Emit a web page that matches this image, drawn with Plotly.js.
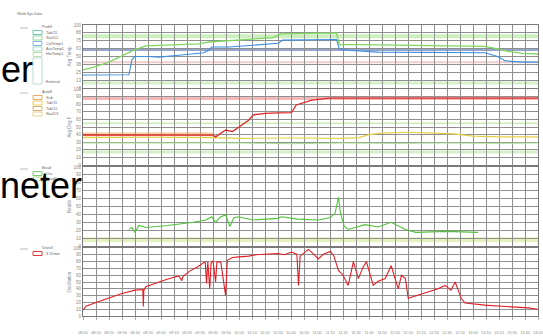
<!DOCTYPE html>
<html><head><meta charset="utf-8">
<script src="https://cdn.plot.ly/plotly-3.0.1.min.js"></script>
<style>html,body{margin:0;padding:0;background:#fff}#c{width:543px;height:336px}</style>
</head><body><div id="c"></div>
<script>
// ---------- DATA ----------
const timeLabels = ["08:00","08:10","08:20","08:30","08:40","08:50","09:00","09:10","09:20","09:30","09:40","09:50",
  "10:00","10:10","10:20","10:30","10:40","10:50","11:00","11:10","11:20","11:30","11:40","11:50",
  "12:00","12:10","12:20","12:30","12:40","12:50","13:00","13:10","13:20","13:30","13:40","13:50"];

// Panel 1 (temperatures)
const p1GreenX = [0,0.84,2.0,3.15,3.91,4.83,5.83,7.37,8.9,9.67,11.2,12.74,14.66,15.2,16.58,18.1,19.5,19.72,21.2,24.25,27.3,30.4,30.9,31.9,32.7,33.8,35];
const p1GreenY = [28.6,33,41,52,60,67,68,69,70,73,75,77,80,86,87,87,87,69,69,68,68,67,66,62,58,55,54];
const p1BlueX = [0,1.23,2.76,3.53,3.76,3.99,5.07,5.83,7.37,9.29,9.67,9.9,11.2,11.97,13.5,15.04,15.35,16.58,18.1,19.5,19.72,20.4,22.7,25.8,28.6,30.4,30.9,31.9,32.5,33.8,35];
const p1BlueY = [20.6,21,21,21,45,50,50,49,52,56,60,65,65,66,68,71,76,76,77,77,62,60,57,57,57,57,56,50,43,41,41];
const p1Thresholds = [60.3, 82, 41, 8];

// Panel 2
const p2RedX = [0,2,4,6,8,10,10.2,10.97,11.5,11.97,12.74,13.1,14.04,15,16.04,16.4,17.1,17.6,18.9,21,24,27,30,33,35];
const p2RedY = [39.5,39.5,39.8,39.5,39.5,39.3,37,46,44,50,59,66,68,68.5,69,79,83,85.5,88,88,88.5,88,88.3,88,88];
const p2OrangeX = [0,3,6,9,10.05];
const p2OrangeY = [40,40.5,40,40.3,40];
const p2YellowX = [0,5,10,12,16,20,21.2,22,23,25,27,28.5,30,32,35];
const p2YellowY = [36,36.5,36,35,35.5,35,36,40,42,43,42,41,38,37,37];
const p2GreenX = [0,4,8,12,16,20,24,28,32,35];
const p2GreenY = [29,29,28.5,29,28,29,28.5,29,28.5,29];
const p2Thresholds = [88, 55, 17];

// Panel 3
const p3GreenX = [3.53,3.76,4.0,4.3,4.83,6.5,8.5,9.44,9.9,10.2,10.5,10.97,11.3,11.6,11.97,13.1,15,15.27,16.5,18.1,19.03,19.4,19.65,19.8,20.1,20.4,21.7,22.7,23.7,24.8,25.6,28,30.4];
const p3GreenY = [21,23.5,17.3,26,23.5,26,30,33,37,29.6,36,39.5,24.7,35.8,37,33,35,37,34,33,36,42,61.7,42,24.7,21,27,24,30,21,17.3,18.5,17.3];
const p3Thresholds = [8];

// Panel 4
const p4RedX = [0,0.23,1,2,3,4,4.6,4.64,4.68,4.83,5.5,6.3,7.0,7.37,7.6,7.68,8.2,8.8,9.4,9.5,9.6,9.75,9.85,10.0,10.2,10.3,10.6,10.97,11.1,11.5,12,12.74,13.3,14.04,15,15.5,16.04,16.45,16.58,16.7,17.0,17.34,17.8,18.1,18.5,19.03,19.3,19.65,20.0,20.4,20.8,21.18,21.5,21.8,22.1,22.33,22.7,23.25,23.7,24.25,24.5,24.8,25.02,25.55,26.2,26.78,27.3,27.86,28.3,28.63,29.09,29.39,30.2,30.93,32.46,34.23,35];
const p4RedY = [8.7,14.5,20,27,33,38,39,14,38,43,48,53,57,59,52,58,66,72,80,48,80,40,78,81,50,80,79,30,82,86,87,88,90,91,92,90,94,91,45,88,93,98,90,84,91,95,88,67,60,45,80,55,70,80,60,45,51,55,74,40,60,55,26,29,33,36,40,45,38,50,26,19,17,16,14,12,10];

// Legends
const legendTitles = ["Prob9","Auto8","Bead","Drive3"];
const legend1Names = ["Tab/11","Stat/12","ColTemp1","AuxTemp1","HotTemp1"];
const legend2Names = ["Sub","Tab/11","Tab/12","Stat/13"];
const legend3Names = ["Osc","Bead1"];
const legend4Names = ["3.15mm"];
const axisTitles = ["Avg Temp","Avg Deg F","Beads","Oscillation"];

// ---------- LAYOUT HELPERS ----------
const L = 83, R = 538, T = 25, B = 316;
const P = px => (px - L) / (R - L);
const Q = py => (B - py) / (B - T);
const doms = [[Q(88),1],[Q(165),Q(89)],[Q(246),Q(167)],[0,Q(248)]];

const gridC = '#8f8f8f';
const tickFont = {family:'Liberation Sans, Arial', size:4.5, color:'#8a8a8a'};

function line(x,y,xa,ya,color,w,op){
  return {x:x,y:y,xaxis:xa,yaxis:ya,type:'scatter',mode:'lines',
    line:{color:color,width:w},opacity:op||1,showlegend:false,hoverinfo:'skip'};
}

const traces = [
  line(p1GreenX,p1GreenY,'x','y','#7fd760',1.3),
  line(p1BlueX,p1BlueY,'x','y','#3d8ee0',1.1),
  line(p2OrangeX,p2OrangeY,'x2','y2','#f2a860',4,0.55),
  line(p2GreenX,p2GreenY,'x2','y2','#a9dc8f',1),
  line(p2YellowX,p2YellowY,'x2','y2','#e3cf48',1.1),
  line(p2RedX,p2RedY,'x2','y2','#dd2a2a',1.3),
  line(p3GreenX,p3GreenY,'x3','y3','#52c23c',1.1),
  line(p4RedX,p4RedY,'x4','y4','#e31e26',1.1)
];

const shapes = [];
function hline(v, n, color, w){
  const ax = n===1?'':String(n);
  shapes.push({type:'line',xref:'x'+ax+' domain',x0:0,x1:1,yref:'y'+ax,y0:v,y1:v,
    line:{color:color,width:w},layer:'below'});
}
const th1Colors = ['#2c4f9c','#cdeebf','#f2cccc','#d6f0c9'], th1W=[1,4,2,3];
p1Thresholds.forEach((v,i)=>hline(v,1,th1Colors[i],th1W[i]));
const th2Colors = ['#f6b9b9','#d2efc4','#d6efc8'], th2W=[4,2,3];
p2Thresholds.forEach((v,i)=>hline(v,2,th2Colors[i],th2W[i]));
p3Thresholds.forEach(v=>hline(v,3,'#e3f2c0',5));

const annotations = [];
function txt(t,px,py,opt){
  annotations.push(Object.assign({text:t,xref:'paper',yref:'paper',x:P(px),y:Q(py),
    xanchor:'left',yanchor:'middle',showarrow:false,
    font:{family:'Liberation Sans, Arial',size:3.8,color:'#666'}},opt||{}));
}
txt('Weld Sys Data',15,14);
const legendY = [27,92,168,248];
const swatchColors = [
  ['#6cc6b5','#9bd7a0','#7fb8e0','#a6d8c0','#c0dfb0'],
  ['#f0a860','#e8cf60','#d8b070','#e5d090'],
  ['#7fcf70','#a9dc8f'],
  ['#e23a3a']
];
const legendNames = [legend1Names,legend2Names,legend3Names,legend4Names];
legendTitles.forEach((t,i)=>{
  txt(t,40,legendY[i]);
  shapes.push({type:'line',xref:'paper',yref:'paper',x0:P(20),x1:P(28),y0:Q(legendY[i]+1),y1:Q(legendY[i]+1),
    line:{color:'#9ab',width:0.8}});
  legendNames[i].forEach((n,j)=>{
    const yy = legendY[i]+5.5+j*5.5;
    txt(n,44,yy);
    shapes.push({type:'rect',xref:'paper',yref:'paper',x0:P(33),x1:P(42),y0:Q(yy+2),y1:Q(yy-2),
      line:{color:swatchColors[i][j],width:1},fillcolor:'rgba(255,255,255,0)'});
  });
});
txt('External',44,82);
shapes.push({type:'rect',xref:'paper',yref:'paper',x0:P(33),x1:P(42),y0:Q(84),y1:Q(58),
  line:{color:'#b8dcd0',width:1},fillcolor:'rgba(255,255,255,0)'});

// big overlaid slide text
annotations.push({text:'er',xref:'paper',yref:'paper',x:P(-1),y:Q(69),xanchor:'left',yanchor:'middle',
  showarrow:false,font:{family:'Liberation Sans, Arial',size:36,color:'#000'}});
annotations.push({text:'neter',xref:'paper',yref:'paper',x:P(-2),y:Q(185),xanchor:'left',yanchor:'middle',
  showarrow:false,font:{family:'Liberation Sans, Arial',size:36,color:'#000'}});

const tickVals = timeLabels.map((_,i)=>i);
function xa(anchor,show){
  return {anchor:anchor,range:[0,35],matches:anchor==='y'?undefined:'x',
    tickvals:tickVals,ticktext:timeLabels,showticklabels:show,tickangle:0,
    tickfont:{family:'Liberation Sans, Arial',size:3.8,color:'#8a8a8a'},
    ticks:show?'outside':'',ticklen:3,tickcolor:'#aaa',ticklabelstandoff:9,
    showgrid:true,gridcolor:gridC,gridwidth:1,zeroline:false,
    showline:true,mirror:true,linecolor:'#7a7a7a',linewidth:1};
}
function ya(i,dtick){
  return {domain:doms[i],range:[0,100],dtick:dtick,tickformat:'.0f',tickfont:tickFont,
    ticks:'',showgrid:true,gridcolor:gridC,gridwidth:1,zeroline:false,
    showline:true,mirror:true,linecolor:'#7a7a7a',linewidth:1,
    title:{text:axisTitles[i],font:{family:'Liberation Sans, Arial',size:4.5,color:'#7a8aa0'},standoff:2}};
}

const layout = {
  width:543,height:336,margin:{l:L,r:543-R,t:T,b:336-B},
  paper_bgcolor:'#fff',plot_bgcolor:'#fff',showlegend:false,
  xaxis:xa('y',false),xaxis2:xa('y2',false),xaxis3:xa('y3',false),xaxis4:xa('y4',true),
  yaxis:ya(0,12.5),yaxis2:ya(1,10),yaxis3:ya(2,10),yaxis4:ya(3,10),
  shapes:shapes,annotations:annotations
};
Plotly.newPlot('c',traces,layout,{staticPlot:true,displayModeBar:false});
</script></body></html>
